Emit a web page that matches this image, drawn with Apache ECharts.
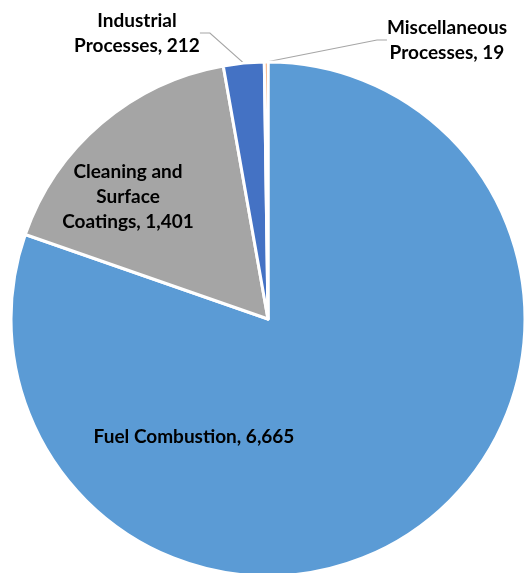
<!DOCTYPE html>
<html>
<head>
<meta charset="utf-8">
<script src="https://cdn.jsdelivr.net/npm/echarts@6/dist/echarts.min.js"></script>
<style>
  html, body { margin: 0; padding: 0; background: #fff; }
  #chart { width: 525px; height: 573px; }
</style>
</head>
<body>
<div id="chart"></div>
<script>
var categories = ['Fuel Combustion', 'Cleaning and Surface Coatings', 'Industrial Processes', 'Miscellaneous Processes']
var values = [6665, 1401, 212, 19]
var colors = ['#5B9BD5', '#A5A5A5', '#4472C4', '#ED7D31']
// label text as it is wrapped in the picture
var labelText = [
  'Fuel Combustion, 6,665',
  'Cleaning and\nSurface\nCoatings, 1,401',
  'Industrial\nProcesses, 212',
  'Miscellaneous\nProcesses, 19'
]
// where each label sits (centre of text block)
var labelPos = [[194, 437], [128, 197], [137, 33], [447, 40]]

var chart = echarts.init(document.getElementById('chart'))

var pieData = []
for (let i = 0; i < categories.length; i++) {
  pieData.push({
    name: categories[i],
    value: values[i],
    itemStyle: { color: colors[i] },
    label: {
      position: i < 2 ? 'inside' : 'outside',
      formatter: labelText[i]
    },
    labelLine: { show: i >= 2 }
  })
}

var option = {
  animation: false,
  series: [
    {
      type: 'pie',
      center: [268, 319],
      radius: 257,
      startAngle: 90,
      clockwise: true,
      itemStyle: {
        borderColor: '#ffffff',
        borderWidth: 3
      },
      label: {
        color: '#000000',
        fontFamily: 'Lato',
        fontWeight: 'bold',
        fontSize: 19,
        lineHeight: 25,
        align: 'center',
        overflow: 'none'
      },
      labelLine: {
        lineStyle: { color: '#a6a6a6', width: 1.2 },
        length: 10,
        length2: 10
      },
      labelLayout: function (params) {
        var p = labelPos[params.dataIndex]
        return {
          x: p[0],
          y: p[1],
          align: 'center',
          verticalAlign: 'middle'
        }
      },
      data: pieData
    }
  ]
}
chart.setOption(option)
</script>
</body>
</html>
